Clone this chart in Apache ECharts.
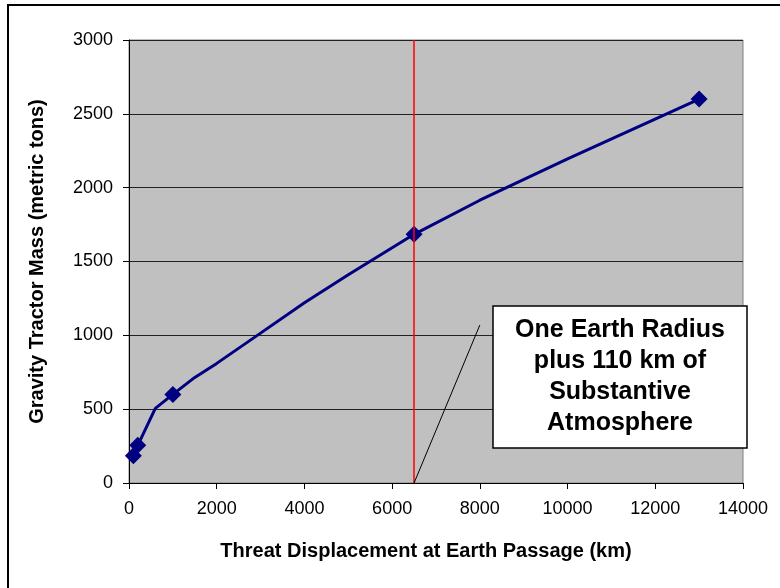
<!DOCTYPE html>
<html>
<head>
<meta charset="utf-8">
<script src="https://cdn.jsdelivr.net/npm/echarts@6/dist/echarts.min.js"></script>
<style>html,body{margin:0;padding:0;background:#fff;}#c{width:780px;height:588px;}</style>
</head>
<body>
<div id="c"></div>
<script>
// Curve (polyline) values
const curveX = [100, 200, 600, 1000, 1500, 2000, 3000, 4000, 5000, 6500, 8000, 10000, 13000];
const curveY = [185, 255, 505, 600, 715, 810, 1015, 1220, 1410, 1684, 1915, 2195, 2600];
// Marker values
const markerX = [100, 200, 1000, 6500, 13000];
const markerY = [185, 255, 600, 1684, 2600];
// Reference line (one Earth radius + 110 km)
const refX = 6500;
// Pointer from reference line to the note
const pointerFrom = [6500, 0];
const pointerTo = [8000, 1070];
const noteLines = ['One Earth Radius', 'plus 110 km of', 'Substantive', 'Atmosphere'];
const xTitle = 'Threat Displacement at Earth Passage (km)';
const yTitle = 'Gravity Tractor Mass (metric tons)';

const chart = echarts.init(document.getElementById('c'), null, {renderer: 'canvas'});
const font = '"Liberation Sans", Arial, sans-serif';
chart.setOption({
  animation: false,
  backgroundColor: '#ffffff',
  grid: {left: 129, right: 37, top: 40, bottom: 105, show: true,
         backgroundColor: '#C0C0C0', borderColor: '#808080', borderWidth: 1},
  xAxis: {
    type: 'value', min: 0, max: 14000, interval: 2000,
    name: xTitle, nameLocation: 'middle', nameGap: 58,
    nameTextStyle: {fontFamily: font, fontWeight: 'bold', fontSize: 20, color: '#000', padding: [0, 20, 0, 0]},
    axisLine: {lineStyle: {color: '#000', width: 1}},
    axisTick: {show: true, length: 6, lineStyle: {color: '#000'}},
    axisLabel: {fontFamily: font, fontSize: 18, color: '#000', margin: 17, formatter: v => String(v)},
    splitLine: {show: false}
  },
  yAxis: {
    type: 'value', min: 0, max: 3000, interval: 500,
    name: yTitle, nameLocation: 'middle', nameGap: 82, nameRotate: 90,
    nameTextStyle: {fontFamily: font, fontWeight: 'bold', fontSize: 20, color: '#000'},
    axisLine: {show: true, lineStyle: {color: '#000', width: 1}},
    axisTick: {show: true, length: 6, lineStyle: {color: '#000'}},
    axisLabel: {fontFamily: font, fontSize: 18, color: '#000', margin: 16, formatter: v => String(v)},
    splitLine: {show: true, lineStyle: {color: '#222', width: 1}}
  },
  series: [
    {
      type: 'line',
      data: curveX.map((x, i) => [x, curveY[i]]),
      symbol: 'none',
      lineStyle: {color: '#000080', width: 3},
      z: 3,
      markLine: {
        silent: true, symbol: ['none', 'none'], label: {show: false},
        data: [
          {xAxis: refX, lineStyle: {color: '#FF0000', width: 1.5, type: 'solid'}},
          [{coord: pointerFrom, lineStyle: {color: '#000', width: 1, type: 'solid'}}, {coord: pointerTo}]
        ]
      }
    },
    {
      type: 'scatter',
      data: markerX.map((x, i) => [x, markerY[i]]),
      symbol: 'diamond',
      symbolSize: 17,
      itemStyle: {color: '#000080', opacity: 1},
      z: 4
    }
  ],
  graphic: [
    {type: 'rect', shape: {x: 8, y: 5, width: 800, height: 600}, style: {fill: 'none', stroke: '#000', lineWidth: 2}, z: 10},
    {type: 'rect', shape: {x: 493, y: 306, width: 254, height: 142}, style: {fill: '#fff', stroke: '#000', lineWidth: 1.5}, z: 10},
    {type: 'text', x: 620, y: 377, z: 11,
     style: {text: noteLines.join('\n'), font: 'bold 25px ' + font, fill: '#000',
             textAlign: 'center', textVerticalAlign: 'middle', lineHeight: 31}}
  ]
});
</script>
</body>
</html>
